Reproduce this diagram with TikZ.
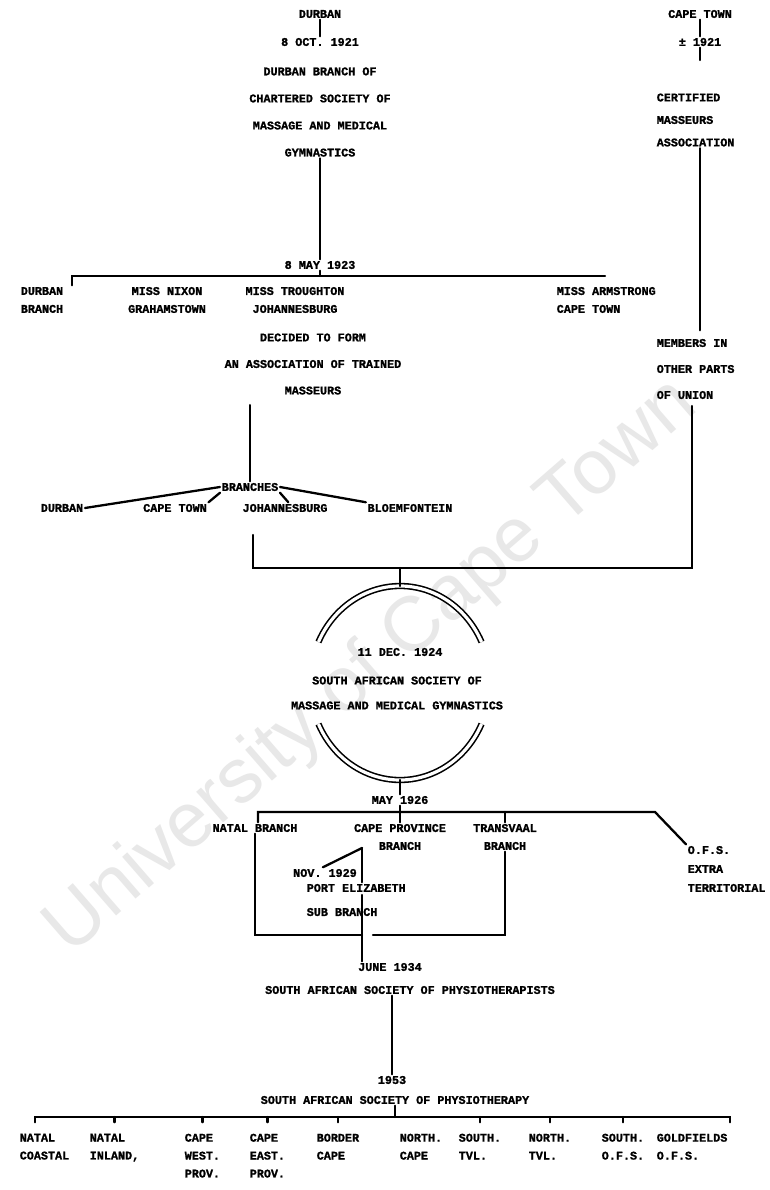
\documentclass[tikz,border=0pt]{standalone}
\usepackage{fontspec}
\newfontfamily\chartfont{Liberation Mono}[BoldFeatures={FakeBold=1.3}]
\newfontfamily\markfont{Liberation Sans}
\usetikzlibrary{positioning}

\begin{document}
\begin{tikzpicture}[
  x=0.02cm, y=-0.02cm,
  lbl/.style={
    font=\chartfont\bfseries\fontsize{6.7}{#1}\selectfont,
    inner sep=0.8pt,
    align=center
  },
  lbl/.default=10.2,
  link/.style={
    draw=black,
    line width=1.3pt,
    line cap=round
  },
  ring/.style={
    draw=black,
    line width=0.9pt,
    double=white,
    double distance=1.8pt
  },
  stamp/.style={
    font=\markfont\fontsize{44}{44}\selectfont,
    text=black!9,
    rotate=41
  }
]
  \fill[white] (0,0) rectangle (770,1190);
  \useasboundingbox (0,0) rectangle (770,1190);
  \node[stamp] (stamp) at (372,668) {University of Cape Town};

  % Durban branch of the Chartered Society
  \node[lbl] (durban) at (320,14) {DURBAN};
  \node[lbl] (oct21) at (320,42) {8 OCT. 1921};
  \node[lbl=15.4] (durbanbr) at (320,112)
    {DURBAN BRANCH OF\\CHARTERED SOCIETY OF\\MASSAGE AND MEDICAL\\GYMNASTICS};
  \node[lbl] (may23) at (320,265) {8 MAY 1923};
  \coordinate (barl) at (72,276);
  \coordinate (barr) at (605,276);

  \node[lbl] (fdurban) at (42,300) {DURBAN\\BRANCH};
  \node[lbl] (fnixon) at (167,300) {MISS NIXON\\GRAHAMSTOWN};
  \node[lbl] (ftrough) at (295,300) {MISS TROUGHTON\\JOHANNESBURG};
  \node[lbl, align=left, anchor=west] (farm) at (555,300)
    {MISS ARMSTRONG\\CAPE TOWN};
  \node[lbl=15.1] (decided) at (313,364)
    {DECIDED TO FORM\\AN ASSOCIATION OF TRAINED\\MASSEURS};

  \node[lbl] (branches) at (250,487) {BRANCHES};
  \node[lbl] (bdurban) at (62,508) {DURBAN};
  \node[lbl] (bcape) at (175,508) {CAPE TOWN};
  \node[lbl] (bjoh) at (285,508) {JOHANNESBURG};
  \node[lbl] (bbloem) at (410,508) {BLOEMFONTEIN};

  \draw[link] (durban) -- (oct21);
  \draw[link] (durbanbr) -- (may23);
  \draw[link] (may23) -- (may23 |- barl);
  \draw[link] (barl |- fdurban.north) -- (barl) -- (barr);
  \draw[link, shorten <=5pt] (branches.north |- decided.south) -- (branches);
  \draw[link] (branches.west) -- (bdurban.east);
  \draw[link] (branches.south west) -- (bcape.north east);
  \draw[link] (branches.south east) -- (bjoh.60);
  \draw[link] (branches.east) -- (bbloem.north west);

  % Cape Town association
  \node[lbl] (capetown) at (700,14) {CAPE TOWN};
  \node[lbl] (ct21) at (700,42) {± 1921};
  \coordinate (cttick) at (700,60);
  \node[lbl=12.8, align=left, anchor=west] (certified) at (655,120)
    {CERTIFIED\\MASSEURS\\ASSOCIATION};
  \node[lbl=14.8, align=left, anchor=west] (members) at (655,369)
    {MEMBERS IN\\OTHER PARTS\\OF UNION};

  \draw[link] (capetown) -- (ct21);
  \draw[link] (ct21) -- (cttick);
  \draw[link, shorten >=4pt] (ct21 |- certified.south) -- (ct21 |- members.north);

  % joining the two
  \coordinate (johdrop) at (253,535);
  \coordinate (joinl) at (253,568);
  \coordinate (join) at (400,568);
  \coordinate (joinr) at (692,568);
  \draw[link, shorten <=3pt] (joinr |- members.south) -- (joinr) -- (joinl) -- (johdrop);

  % the society of 1924
  \coordinate (ringc) at (400,683);
  \coordinate (ringtop) at (400,586);
  \coordinate (ringbot) at (400,780);
  \draw[ring] (ringc) ++(-155:90 and 97)
    arc[start angle=-155, end angle=-25, x radius=90, y radius=97];
  \draw[ring] (ringc) ++(155:90 and 97)
    arc[start angle=155, end angle=25, x radius=90, y radius=97];
  \node[lbl] (dec24) at (400,652) {11 DEC. 1924};
  \node[lbl=14.2] (sasmmg) at (397,693)
    {SOUTH AFRICAN SOCIETY OF\\MASSAGE AND MEDICAL GYMNASTICS};
  \draw[link] (join) -- (ringtop);

  \node[lbl] (may26) at (400,800) {MAY 1926};
  \coordinate (bar2l) at (258,812);
  \coordinate (bar2r) at (655,812);
  \node[lbl] (natal) at (255,828) {NATAL BRANCH};
  \node[lbl] (cape) at (400,837) {CAPE PROVINCE\\BRANCH};
  \node[lbl] (tvl) at (505,837) {TRANSVAAL\\BRANCH};
  \node[lbl=10.8, align=left, anchor=west] (ofs) at (686,869)
    {O.F.S.\\EXTRA\\TERRITORIAL};
  \node[lbl] (nov29) at (325,873) {NOV. 1929};
  \node[lbl=13.7, align=left, anchor=west] (pe) at (305,900)
    {PORT ELIZABETH\\SUB BRANCH};

  \draw[link] (ringbot) -- (may26);
  \draw[link] (may26) -- (may26 |- bar2l);
  \draw[link] (bar2l |- natal.north) -- (bar2l) -- (bar2r) -- (ofs.north west);
  \draw[link] (cape.north |- bar2l) -- (cape.north);
  \draw[link] (tvl.north |- bar2l) -- (tvl.north);

  % branches merge again
  \coordinate (capeleg) at (362,848);
  \coordinate (pegap) at (362,895);
  \coordinate (pejoin) at (362,935);
  \coordinate (tvljoin) at (373,935);
  \node[lbl] (june34) at (390,967) {JUNE 1934};
  \node[lbl] (sasp) at (410,990) {SOUTH AFRICAN SOCIETY OF PHYSIOTHERAPISTS};

  \draw[link] (nov29.110) -- (capeleg);
  \draw[link] (capeleg) -- (capeleg |- pe.north);
  \draw[link] (pegap) -- (pegap |- june34.north);
  \draw[link] (natal.south) |- (pejoin);
  \draw[link] (tvl.south) |- (tvljoin);

  % the society of 1953 and its branches
  \node[lbl] (y53) at (392,1080) {1953};
  \node[lbl] (sap) at (395,1100) {SOUTH AFRICAN SOCIETY OF PHYSIOTHERAPY};
  \coordinate (bar3l) at (35,1117);
  \coordinate (bar3r) at (730,1117);
  \draw[link] (y53.north |- sasp.south) -- (y53);
  \draw[link] (sap) -- (sap |- bar3l);
  \draw[link] ([yshift=-3pt]bar3l) -- (bar3l) -- (bar3r) -- ([yshift=-3pt]bar3r);

  \node[lbl, align=left, anchor=north west] (natc) at (18,1132) {NATAL\\COASTAL};
  \node[lbl, align=left, anchor=north west] (nati) at (88,1132) {NATAL\\INLAND,};
  \node[lbl, align=left, anchor=north west] (capew) at (183,1132) {CAPE\\WEST.\\PROV.};
  \node[lbl, align=left, anchor=north west] (capee) at (248,1132) {CAPE\\EAST.\\PROV.};
  \node[lbl, align=left, anchor=north west] (border) at (315,1132) {BORDER\\CAPE};
  \node[lbl, align=left, anchor=north west] (ncape) at (398,1132) {NORTH.\\CAPE};
  \node[lbl, align=left, anchor=north west] (stvl) at (457,1132) {SOUTH.\\TVL.};
  \node[lbl, align=left, anchor=north west] (ntvl) at (527,1132) {NORTH.\\TVL.};
  \node[lbl, align=left, anchor=north west] (sofs) at (600,1132) {SOUTH.\\O.F.S.};
  \node[lbl, align=left, anchor=north west] (gofs) at (655,1132) {GOLDFIELDS\\O.F.S.};

  \foreach \br in {nati,capew,capee,border,stvl,ntvl,sofs}
    \draw[link] (\br.north |- bar3l) -- ([yshift=-3pt]\br.north |- bar3l);
\end{tikzpicture}
\end{document}
